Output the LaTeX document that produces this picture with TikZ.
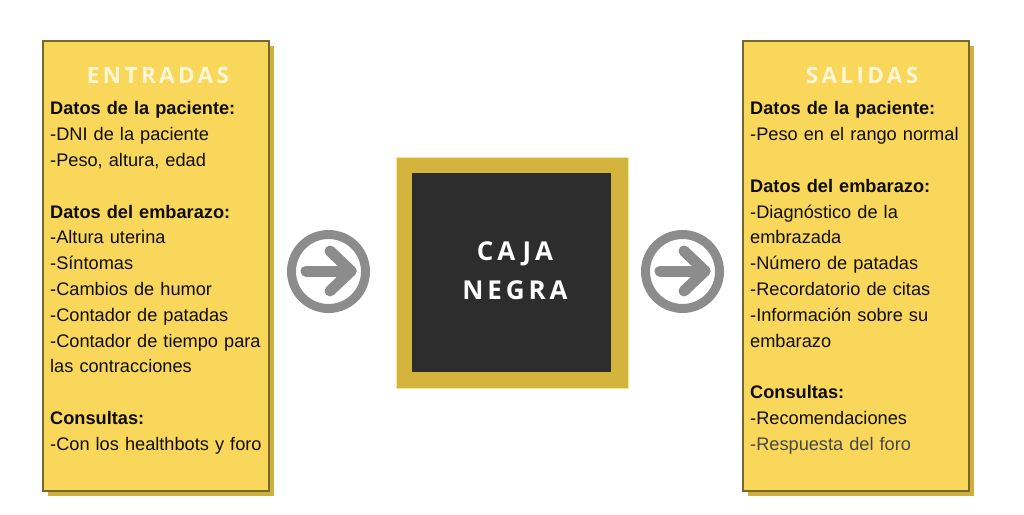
\documentclass[tikz,border=0pt]{standalone}
\usepackage{fontspec}
\setmainfont{Liberation Sans}
\newfontfamily\titlefont[LetterSpace=15]{Open Sans Bold}
\newfontfamily\cajafont[LetterSpace=15]{Open Sans Bold}
\definecolor{boxfill}{RGB}{249,215,91}
\definecolor{boxshadow}{RGB}{205,176,62}
\definecolor{boxborder}{RGB}{118,104,44}
\definecolor{cajaouter}{RGB}{212,180,60}
\definecolor{cajaedge}{RGB}{246,232,150}
\definecolor{cajainner}{RGB}{45,45,45}
\definecolor{circgray}{RGB}{140,140,140}
\definecolor{titlecol}{RGB}{255,246,214}
\definecolor{txt}{RGB}{15,13,5}
\begin{document}
\begin{tikzpicture}[x=1pt,y=-1pt,
  panel/.style={fill=boxfill,draw=boxborder,line width=1.5pt},
  shadowbox/.style={fill=boxshadow},
  titletext/.style={font=\titlefont\fontsize{22.5}{26}\selectfont,text=titlecol,inner sep=0,anchor=base},
  bodytext/.style={font=\fontsize{18.2}{25.8}\selectfont,text=txt,inner sep=0,anchor=north west,align=left,text width=222pt},
  ring/.style={draw=circgray,line width=9pt},
  arrowline/.style={draw=circgray,line width=11pt,line cap=round,line join=round}
]
\useasboundingbox (0,0) rectangle (1024,514);
% left panel
\fill[shadowbox] (48,46) rectangle (274,496);
\node[panel,minimum width=226pt,minimum height=450pt,inner sep=0,anchor=north west] (inbox) at (42,40) {};
\node[titletext] (intitle) at (158,83) {ENTRADAS};
\node[bodytext] (intext) at (50,101.5) {\textbf{Datos de la paciente:}\\
-DNI de la paciente\\
-Peso, altura, edad\\
\mbox{}\\
\textbf{Datos del embarazo:}\\
-Altura uterina\\
-Síntomas\\
-Cambios de humor\\
-Contador de patadas\\
-Contador de tiempo para\\
las contracciones\\
\mbox{}\\
\textbf{Consultas:}\\
-Con los healthbots y foro};
% right panel
\fill[shadowbox] (748,46) rectangle (974,496);
\node[panel,minimum width=226pt,minimum height=450pt,inner sep=0,anchor=north west] (outbox) at (742,40) {};
\node[titletext] (outtitle) at (862,83) {SALIDAS};
\node[bodytext] (outtext) at (750,101.5) {\textbf{Datos de la paciente:}\\
-Peso en el rango normal\\
\mbox{}\\
\textbf{Datos del embarazo:}\\
-Diagnóstico de la\\
embrazada\\
-Número de patadas\\
-Recordatorio de citas\\
-Información sobre su\\
embarazo\\
\mbox{}\\
\textbf{Consultas:}\\
-Recomendaciones\\
\textcolor{black!72}{-Respuesta del foro}};
% centre box
\node[fill=cajaouter,draw=cajaedge,line width=1pt,minimum width=232pt,minimum height=231pt,inner sep=0] (caja) at (512,272.5) {};
\node[fill=cajainner,minimum width=199pt,minimum height=199pt,inner sep=0] (cajain) at (511.5,272.5) {};
\node[font=\cajafont\fontsize{26}{39.5}\selectfont,text=white,align=center,inner sep=0,anchor=base] (cajatext) at (515,299.5) {CAJA\\NEGRA};
% circles with arrows
\node[circle,ring,minimum size=74pt,inner sep=0] (c1) at (328.5,271.5) {};
\draw[arrowline] (306,271) -- (351,271);
\draw[arrowline] (330,251) -- (351,271) -- (330,291);
\node[circle,ring,minimum size=74pt,inner sep=0] (c2) at (682.5,271.5) {};
\draw[arrowline] (660,271) -- (705,271);
\draw[arrowline] (684,251) -- (705,271) -- (684,291);
\end{tikzpicture}
\end{document}
